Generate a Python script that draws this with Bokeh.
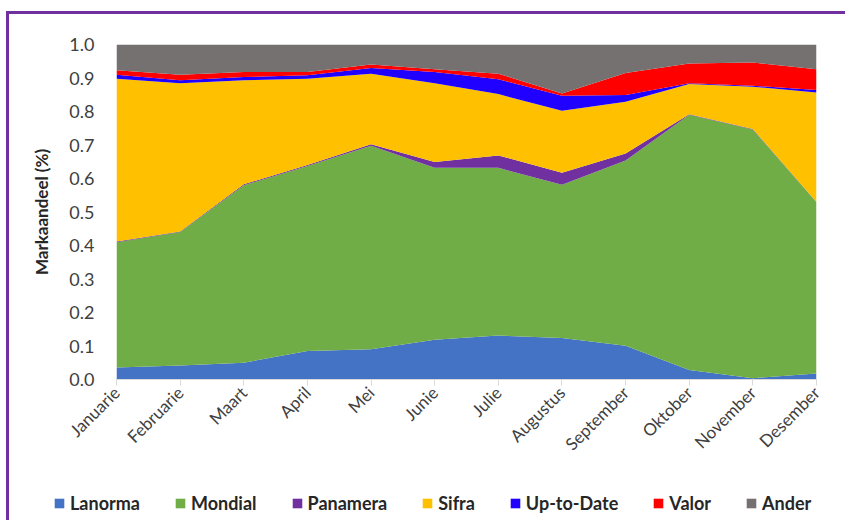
import math
from bokeh.plotting import figure
from bokeh.layouts import column, row
from bokeh.models import (ColumnDataSource, Range1d, FixedTicker, PrintfTickFormatter,
                          Legend, LegendItem)
from bokeh.embed import file_html
from bokeh.resources import INLINE

months = ["Januarie", "Februarie", "Maart", "April", "Mei", "Junie", "Julie",
          "Augustus", "September", "Oktober", "November", "Desember"]
lanorma = [0.036, 0.042, 0.050, 0.085, 0.090, 0.119, 0.131, 0.124, 0.101, 0.028, 0.004, 0.018]
mondial = [0.374, 0.398, 0.530, 0.552, 0.608, 0.513, 0.501, 0.457, 0.553, 0.762, 0.742, 0.511]
panamera = [0.002, 0.002, 0.003, 0.003, 0.004, 0.017, 0.037, 0.036, 0.021, 0.002, 0.002, 0.001]
sifra = [0.486, 0.442, 0.310, 0.258, 0.211, 0.235, 0.183, 0.185, 0.154, 0.090, 0.126, 0.327]
up_to_date = [0.012, 0.009, 0.010, 0.010, 0.017, 0.034, 0.044, 0.045, 0.020, 0.002, 0.003, 0.007]
valor = [0.013, 0.017, 0.015, 0.010, 0.010, 0.008, 0.017, 0.007, 0.066, 0.059, 0.069, 0.062]
ander = [0.077, 0.090, 0.082, 0.082, 0.060, 0.074, 0.087, 0.146, 0.085, 0.057, 0.054, 0.074]

series_names = ["Lanorma", "Mondial", "Panamera", "Sifra", "Up-to-Date", "Valor", "Ander"]
series_values = [lanorma, mondial, panamera, sifra, up_to_date, valor, ander]
colors = ["#4472C4", "#70AD47", "#7030A0", "#FFC000", "#2000FF", "#FF0000", "#767171"]
y_ticks = [0.0, 0.1, 0.2, 0.3, 0.4, 0.5, 0.6, 0.7, 0.8, 0.9, 1.0]

xs = list(range(len(months)))
data = {"x": xs}
keys = []
for i, vals in enumerate(series_values):
    k = "s%d" % i
    keys.append(k)
    data[k] = vals
source = ColumnDataSource(data)

FONT = "Lato"
TXT = "#404040"
W = 836

p = figure(width=W, height=450, output_backend="svg", toolbar_location=None,
           x_range=Range1d(0, len(months) - 1), y_range=Range1d(0, 1.0),
           min_border_left=107, min_border_right=29, min_border_top=30,
           min_border_bottom=82)
p.outline_line_color = None
p.grid.visible = False

rs = p.varea_stack(stackers=keys, x="x", color=colors, source=source)

# y axis
p.yaxis.ticker = FixedTicker(ticks=y_ticks)
p.yaxis.formatter = PrintfTickFormatter(format="%.1f")
p.yaxis.axis_line_color = None
p.yaxis.major_tick_line_color = None
p.yaxis.minor_tick_line_color = None
p.yaxis.major_label_standoff = 16
p.yaxis.major_label_text_font = FONT
p.yaxis.major_label_text_font_size = "18px"
p.yaxis.major_label_text_color = TXT
p.yaxis.axis_label = "Markaandeel (%)"
p.yaxis.axis_label_text_font = FONT
p.yaxis.axis_label_text_font_size = "17px"
p.yaxis.axis_label_text_font_style = "bold"
p.yaxis.axis_label_text_color = "#262626"
p.yaxis.axis_label_standoff = 14

# x axis
p.xaxis.ticker = FixedTicker(ticks=xs)
p.xaxis.major_label_overrides = {i: m for i, m in enumerate(months)}
p.xaxis.major_label_orientation = math.pi / 4
p.xaxis.axis_line_color = "#D9D9D9"
p.xaxis.major_tick_line_color = "#D9D9D9"
p.xaxis.major_tick_in = 0
p.xaxis.major_tick_out = 6
p.xaxis.minor_tick_line_color = None
p.xaxis.major_label_text_font = FONT
p.xaxis.major_label_text_font_size = "17px"
p.xaxis.major_label_text_color = TXT
p.xaxis.major_label_standoff = 4

# legend strip (separate small figure below the chart)
pl = figure(width=W, height=56, output_backend="svg", toolbar_location=None,
            x_range=Range1d(0, len(months) - 1), y_range=Range1d(5, 6),
            x_axis_type=None, y_axis_type=None,
            min_border_left=0, min_border_right=0, min_border_top=0, min_border_bottom=0)
pl.outline_line_color = None
pl.grid.visible = False
lrs = pl.varea_stack(stackers=keys, x="x", color=colors, source=source)

items = [LegendItem(label=n, renderers=[r]) for n, r in zip(series_names, lrs)]
legend = Legend(items=items, orientation="horizontal", location=(44, 6),
                glyph_width=12, glyph_height=12, label_standoff=5, spacing=34,
                padding=0, margin=0, border_line_color=None,
                background_fill_alpha=0,
                label_text_font=FONT, label_text_font_size="18px",
                label_text_font_style="bold", label_text_color="#262626")
pl.add_layout(legend, "center")

layout = column(p, row(pl), spacing=0,
                styles={"border-left": "3px solid #7030A0", "border-top": "3px solid #7030A0",
                        "margin-left": "6px", "margin-top": "11px"})

open("out.html", "w").write(file_html(layout, INLINE))
